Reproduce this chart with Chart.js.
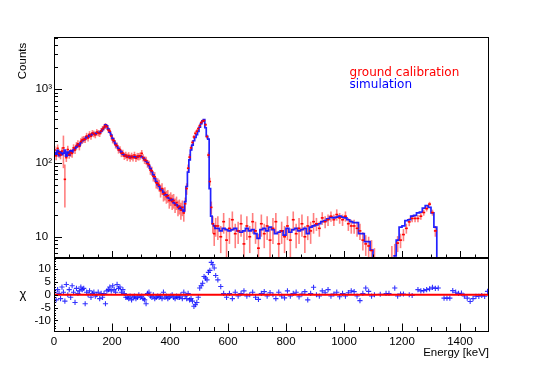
<!DOCTYPE html>
<html><head><meta charset="utf-8">
<script src="https://cdn.jsdelivr.net/npm/chart.js@4.4.1/dist/chart.umd.min.js"></script>
<style>
html,body{margin:0;padding:0;background:#fff;}
#wrap{position:relative;width:545px;height:370px;background:#fff;}
canvas{position:absolute;left:0;top:0;}
</style></head><body>
<div id="wrap"><canvas id="topChart" width="545" height="370"></canvas><canvas id="botChart" width="545" height="370"></canvas></div>
<script>
// ---------------- data ----------------
const energyRange = [0, 1500];
const countRange = [5.15, 5100];
const chiRange = [-14.3, 14.3];
const lowBins = {start: 0, end: 560, width: 5};
const highBins = {start: 560, end: 1500, width: 10};

// simulation (blue histogram), 5 keV bins 0-560
const simLow = [138,132,148,126,142,130,136,150,124,140,128,146,
  140,150,158,165,178,172,188,200,
  205,214,226,224,240,236,248,252,246,255,260,258,268,282,300,328,
  318,288,262,238,214,196,180,168,157,148,140,132,128,125,
  123,121,119,122,120,121,118,121,124,125,121,117,112,106,
  100,92,84,76,69,62,56,51,
  48,44,43,40,37,37,34,33,31,32,29,28,27,26,24,25,23,22,
  30,48,75,110,
  150,175,200,222,242,268,305,342,372,388,300,
  230,210,45,19,15,14,13];
// simulation, 10 keV bins 560-1500
const simHigh = [13,12,13,12.5,12,12.5,13,12,11.5,12,13,12,12.5,11,9.5,12.5,13,12,13.5,12.5,11,11.5,12,10.5,13,11.5,12.5,13,12,12.5,13,11,13.5,14,
  14.5,15,16,16.5,17.5,18.5,18,18.5,19,18.5,18,17,16,15.5,
  15.5,11,11,8.6,8.6,6.6,
  3,null,null,null,null,null,null,
  5.5,9,13.5,14,16.5,17,19,19.5,21,21.5,24.5,26.5,25,21,13.5,4,
  null,null,null,null,null,null,null,null,null,null,null,null,null,null,null,null,null];

// ground calibration (red points)
const dataLow = [150,125,158,135,128,145,160,60,118,152,130,138,
  135,160,150,172,182,168,195,205,
  210,208,232,218,245,230,255,248,240,262,255,250,272,290,305,320,
  310,280,270,232,205,200,175,172,150,152,135,136,124,128,
  120,126,117,124,118,128,116,123,122,125,135,118,110,108,
  98,95,80,78,66,65,54,53,
  50,42,45,38,39,35,36,31,33,30,31,27,29,25,26,23,25,21,
  28,45,85,120,
  160,190,225,252,270,292,320,352,370,375,330,
  228,128,56,25,15,11,14];
const dataHigh = [14,10,16,9,13,17,11,12,15,8,14,10,16,12,7,15,11,14,9,13,16,8,12,10,14,9,17,11,13,15,10,14,12,16,
  15,13,18,16,17,19,17,20,18,17,19,15,14,14,
  13,12,9,8,7.5,6.5,
  4,null,null,null,null,null,4.5,
  5,8.2,9,10.7,13,15.9,17.7,17.7,17.7,19,21.3,24,27.7,21.3,12,null,
  null,null,null,null,null,null,null,null,null,null,null,null,null,null,null,null,null];
const errLow = [18,16,20,17,16,18,75,35,15,19,16,17,
  17,19,18,20,21,20,22,23,
  22,22,24,23,25,24,25,25,24,26,25,25,26,27,28,28,
  27,26,25,23,21,20,18,18,16,16,15,15,14,14,
  14,14,13,14,13,14,13,14,14,14,15,13,13,13,
  12,12,11,11,10,10,9,9,
  9,8,8,8,8,7,7,7,7,7,7,6,6,6,6,6,6,5,
  6,8,10,12,
  13,14,15,16,17,17,18,19,19,19,18,
  15,11,7,5,4,3.5,4];
const errHigh = [5,4,5,4,5,5,4,4,5,4,5,4,5,4,4,5,4,5,4,5,5,4,4,4,5,4,5,4,5,5,4,5,4,5,
  3,3,3.5,3,3,3,3,3.5,3,3,3,3,3,3,
  3,3,2.5,2.5,2.5,2.5,
  3,0,0,0,0,0,3,
  3,2,2,2,2,2,2,2,2,2,2,2,2,2,2,0,
  0,0,0,0,0,0,0,0,0,0,0,0,0,0,0,0,0];

// residuals chi
const chiLow = [1,-2,2,0.5,-1.5,3,1,-2.5,4,0,2,-1,3.5,1,-3,2.5,0.5,1.5,3,2,
  2.5,-3.5,1,0,1.5,-1,0.5,1,-0.5,0,1,-1.5,0.5,-1,0.5,-3.5,
  1.5,2,3,1.5,3.5,2,1,4,2.5,3,1,2,0.5,-1,
  -1,-1.5,-0.5,-2,-1,-0.5,-1.5,-1,0,-1,-0.5,-1.5,-2,-3.5,
  0.5,1,-0.5,-1,0,-1.5,-1,-0.5,
  -1,-0.5,-1.5,1,-1,-0.5,-1.5,-1,-0.5,0,-1,-1.5,-0.5,-1,-1,0,-1.5,1,
  -0.5,-1.5,0.5,-2,
  -1.5,-2.5,-4.5,-3.9,-3,-1,2.6,3.5,4.5,7.1,6.5,
  5.8,8.7,9.5,12.6,11.7,10.4,7.5];
const chiHigh = [5.8,3.2,0.5,-1,0.5,-1.5,1,-0.5,0.5,1.5,
  -0.5,0,1,-1,-1.8,0.5,1.2,-0.5,0.8,0,
  -1.5,1,-0.5,-1.2,1.5,-0.5,0.5,1,-0.8,0.3,
  1.2,-2,0.5,2.9,0,-0.5,1.5,0.8,2,-0.5,
  0.3,1,-0.8,0.5,-0.5,0.8,1.5,1.2,-0.5,-2.3,
  0.5,2.6,1.3,-0.5,0,null,0.2,null,0.5,0.5,
  null,2.6,-0.5,0.3,0.3,null,0,-0.3,null,2,
  1.5,1.6,2,2.3,2.9,2.5,2.6,null,-1.3,-1.3,
  -1.3,1.6,1,0.5,0.6,-0.5,-1.3,-2.6,-1.5,-0.6,
  -0.6,-0.3,-0.6,1.3];

// ticks
const energyTicks = [0,200,400,600,800,1000,1200,1400];
const energyMinorStep = 50;
const countTicks = [10, 100, 1000];
const countTickLabels = ['10\u2004', '10\u00B2', '10\u00B3'];
const countMinorTicks = [6,7,8,9,20,30,40,50,60,70,80,90,200,300,400,500,600,700,800,900,2000,3000,4000,5000];
const chiTicks = [-10,-5,0,5,10];
const chiMinorStep = 1;
const legendLabels = ['ground calibration', 'simulation'];
const legendColors = ['#ff0000', '#0000ff'];

// ---------------- build ----------------
const edges = [];
for (let v = lowBins.start; v < lowBins.end; v += lowBins.width) edges.push(v);
for (let v = highBins.start; v <= highBins.end; v += highBins.width) edges.push(v);
const sim = simLow.concat(simHigh);
const dat = dataLow.concat(dataHigh);
const err = errLow.concat(errHigh);
const chi = chiLow.concat(chiHigh);
const nb = edges.length - 1;

const yMin = countRange[0];
const simPoints = [{x: edges[0], y: yMin}];
for (let i = 0; i < nb; i++) {
  const v = sim[i];
  if (v === null || v === undefined) { simPoints.push({x: edges[i], y: null}); continue; }
  const yv = Math.max(v, yMin);
  simPoints.push({x: edges[i], y: yv}, {x: edges[i + 1], y: yv});
}
const dataPoints = [];
const chiPoints = [];
for (let i = 0; i < nb; i++) {
  const c = (edges[i] + edges[i + 1]) / 2, hw = (edges[i + 1] - edges[i]) / 2;
  if (dat[i] !== null && dat[i] !== undefined) dataPoints.push({x: c, y: dat[i], err: err[i] || 0, hw});
  if (chi[i] !== null && chi[i] !== undefined) chiPoints.push({x: c, y: chi[i], hw});
}

Chart.defaults.font.family = '"Liberation Sans", Arial, sans-serif';
Chart.defaults.color = '#000';

function frameTicks(o) {
  return {
    id: 'frameTicks',
    afterDraw(chart) {
      const {ctx, chartArea: a, scales} = chart;
      ctx.save();
      ctx.strokeStyle = '#000';
      ctx.lineWidth = 1;
      ctx.beginPath();
      const xs = scales.x, ys = scales.y;
      for (let v = energyRange[0] + energyMinorStep; v < energyRange[1]; v += energyMinorStep) {
        const px = Math.round(xs.getPixelForValue(v)) + 0.5;
        const len = energyTicks.includes(v) ? o.xMajor : o.xMinor;
        ctx.moveTo(px, a.bottom); ctx.lineTo(px, a.bottom - len);
      }
      for (const t of o.yMajorVals) {
        const py = Math.round(ys.getPixelForValue(t)) + 0.5;
        ctx.moveTo(a.left, py); ctx.lineTo(a.left + o.yMajor, py);
      }
      for (const t of o.yMinorVals) {
        const py = Math.round(ys.getPixelForValue(t)) + 0.5;
        ctx.moveTo(a.left, py); ctx.lineTo(a.left + o.yMinor, py);
      }
      ctx.stroke();
      ctx.strokeRect(Math.round(a.left) + 0.5, Math.round(a.top) + 0.5, Math.round(a.right - a.left) - 1, Math.round(a.bottom - a.top) - 1);
      ctx.restore();
    }
  };
}

const redErrorBars = {
  id: 'redErrorBars',
  beforeDatasetsDraw(chart) {
    const {ctx, chartArea: a, scales: {x, y}} = chart;
    ctx.save();
    ctx.beginPath(); ctx.rect(a.left, a.top, a.right - a.left, a.bottom - a.top); ctx.clip();
    ctx.strokeStyle = 'rgba(255,0,0,0.5)';
    ctx.lineWidth = 1.6;
    for (const p of dataPoints) {
      if (!p.err) continue;
      const px = x.getPixelForValue(p.x);
      const lo = p.y - p.err;
      const y1 = lo > 0 ? y.getPixelForValue(lo) : a.bottom + 2;
      const y2 = y.getPixelForValue(p.y + p.err);
      ctx.beginPath(); ctx.moveTo(px, y1); ctx.lineTo(px, y2); ctx.stroke();
    }
    ctx.restore();
  }
};

const legendText = {
  id: 'legendText',
  afterDraw(chart) {
    const {ctx} = chart;
    ctx.save();
    ctx.font = '12px "DejaVu Sans"';
    ctx.textBaseline = 'alphabetic';
    ctx.textAlign = 'left';
    const x = chart.scales.x.getPixelForValue(1019);
    legendLabels.forEach((t, i) => {
      ctx.fillStyle = legendColors[i];
      ctx.fillText(t, x, 76 + i * 11.5);
    });
    ctx.restore();
  }
};

const chiLabel = {
  id: 'chiLabel',
  afterDraw(chart) {
    const {ctx, chartArea: a} = chart;
    ctx.save();
    ctx.font = '13px "Liberation Sans"';
    ctx.fillStyle = '#000';
    ctx.textAlign = 'center';
    ctx.textBaseline = 'middle';
    ctx.fillText('\u03C7', 23, (a.top + a.bottom) / 2);
    ctx.restore();
  }
};

const halfBinPx = (c) => {
  const p = c.raw; const xs = c.chart.scales.x;
  if (!p || !xs) return 2;
  return Math.max(1.2, Math.abs(xs.getPixelForValue(p.x + p.hw) - xs.getPixelForValue(p.x)));
};

new Chart(document.getElementById('topChart'), {
  type: 'line',
  data: {datasets: [
    {label: legendLabels[0], data: dataPoints, showLine: false, pointStyle: 'line',
     pointRadius: halfBinPx, borderColor: '#ff0000', backgroundColor: '#ff0000', pointBorderWidth: 1.6},
    {label: legendLabels[1], data: simPoints, borderColor: 'rgba(10,10,255,0.9)', borderWidth: 1.7,
     pointRadius: 0, spanGaps: false, tension: 0, fill: false}
  ]},
  options: {
    responsive: false, animation: false, devicePixelRatio: 1, events: [],
    layout: {padding: {top: 37, right: 56, left: 0, bottom: 0}},
    plugins: {legend: {display: false}, tooltip: {enabled: false}},
    scales: {
      x: {type: 'linear', min: energyRange[0], max: energyRange[1],
          grid: {display: false, drawTicks: false}, border: {display: false},
          ticks: {display: false},
          afterFit: (s) => { s.height = 112; }},
      y: {type: 'logarithmic', min: countRange[0], max: countRange[1],
          grid: {display: false, drawTicks: false}, border: {display: false},
          afterBuildTicks: (s) => { s.ticks = countTicks.map(v => ({value: v, major: true})); },
          ticks: {autoSkip: false, padding: 2, font: {size: 11.5},
                  callback: (v) => { const i = countTicks.indexOf(v); return i >= 0 ? countTickLabels[i] : ''; }},
          title: {display: true, text: 'Counts\u2002', align: 'end', font: {size: 11.5}, padding: {top: 16, bottom: 0}},
          afterFit: (s) => { s.width = 54; }}
    }
  },
  plugins: [redErrorBars, frameTicks({xMajor: 7, xMinor: 3.5, yMajor: 8, yMinor: 4, yMajorVals: countTicks, yMinorVals: countMinorTicks}), legendText]
});

const chiMinorVals = [];
for (let v = -14; v <= 14; v += chiMinorStep) if (!chiTicks.includes(v)) chiMinorVals.push(v);

new Chart(document.getElementById('botChart'), {
  type: 'line',
  data: {datasets: [
    {label: 'zero', data: [{x: energyRange[0], y: 0}, {x: energyRange[1], y: 0}],
     borderColor: '#ff0000', borderWidth: 2, pointRadius: 0},
    {label: 'chi', data: chiPoints, showLine: false, pointStyle: 'cross', pointRadius: 2.6,
     borderColor: 'rgba(0,0,255,0.8)', pointBorderWidth: 1.1}
  ]},
  options: {
    responsive: false, animation: false, devicePixelRatio: 1, events: [],
    layout: {padding: {top: 258, right: 56, left: 0, bottom: 0}},
    plugins: {legend: {display: false}, tooltip: {enabled: false}},
    scales: {
      x: {type: 'linear', min: energyRange[0], max: energyRange[1],
          grid: {display: false, drawTicks: false}, border: {display: false},
          afterBuildTicks: (s) => { s.ticks = energyTicks.map(v => ({value: v})); },
          ticks: {autoSkip: false, maxRotation: 0, padding: 3, font: {size: 11.5}, callback: (v) => String(v)},
          title: {display: true, text: 'Energy [keV]', align: 'end', font: {size: 11.5}, padding: {top: 0, bottom: 10}},
          afterFit: (s) => { s.height = 38.5; }},
      y: {type: 'linear', min: chiRange[0], max: chiRange[1],
          grid: {display: false, drawTicks: false}, border: {display: false},
          afterBuildTicks: (s) => { s.ticks = chiTicks.map(v => ({value: v})); },
          ticks: {autoSkip: false, padding: 3, font: {size: 11.5}, callback: (v) => String(v)},
          afterFit: (s) => { s.width = 54; }}
    }
  },
  plugins: [frameTicks({xMajor: 8, xMinor: 4.5, yMajor: 4, yMinor: 2, yMajorVals: chiTicks, yMinorVals: chiMinorVals}), chiLabel]
});
</script>
</body></html>
